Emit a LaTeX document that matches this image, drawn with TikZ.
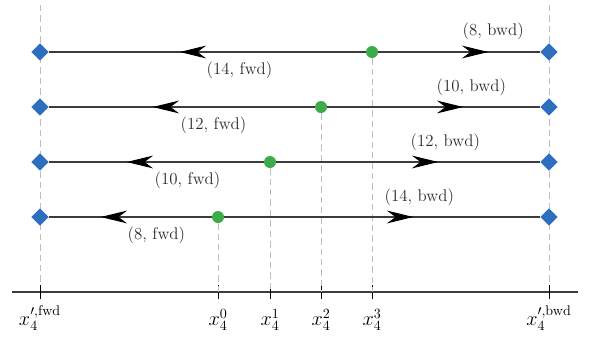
\documentclass[tikz,border=0pt]{standalone}
\usepackage{amsmath}
\usepackage{xcolor}
\definecolor{diablue}{RGB}{45,110,190}
\definecolor{dotgrn}{RGB}{58,172,72}
\definecolor{linegray}{RGB}{60,60,60}
\definecolor{guidegray}{RGB}{190,190,190}
\definecolor{txtgray}{RGB}{45,45,45}
\usepackage{tikz}
\usetikzlibrary{shapes.geometric, arrows.meta, decorations.markings}
\tikzset{
  endpt/.style={
    diamond, fill=diablue, inner sep=0pt, minimum size=4.4mm},
  split/.style={
    circle, fill=dotgrn, inner sep=0pt, minimum size=3mm},
  seg/.style={linegray, line width=0.8pt},
  guide/.style={guidegray, line width=0.7pt, dash pattern=on 1.6mm off 1mm},
  axisln/.style={linegray, line width=0.9pt},
  tickln/.style={black, line width=0.6pt},
  cost/.style={font=\large, text=txtgray, inner sep=1pt},
  ticklbl/.style={font=\Large, inner sep=1pt},
  midarr/.style={
    postaction={decorate},
    decoration={markings,
      mark=at position #1 with {\arrow{Stealth[length=6.6mm, width=3.2mm, color=black]}}}},
}

\begin{document}
\begin{tikzpicture}[x=0.025cm, y=-0.025cm]
  \useasboundingbox (0,0) rectangle (592,336);
  % axis and ticks
  \coordinate (axl) at (12,292);
  \coordinate (axr) at (578,292);
  \coordinate (tf) at (40,292);
  \coordinate (t0) at (218,292);
  \coordinate (t1) at (270,292);
  \coordinate (t2) at (321,292);
  \coordinate (t3) at (372,292);
  \coordinate (tb) at (549,292);
  \coordinate (topf) at (40,5);
  \coordinate (topb) at (549,5);
  \draw[guide] (topf) -- (tf);
  \draw[guide] (topb) -- (tb);
  \draw[axisln] (axl) -- (axr);
  \foreach \t in {tf,t0,t1,t2,t3,tb}
    \draw[tickln] ([yshift=-5]\t) -- ([yshift=5]\t);
  \node[ticklbl] (lf) at (40,318) {$x_4^{\prime,\mathrm{fwd}}$};
  \node[ticklbl] (l0) at (218,320) {$x_4^0$};
  \node[ticklbl] (l1) at (270,320) {$x_4^1$};
  \node[ticklbl] (l2) at (321,320) {$x_4^2$};
  \node[ticklbl] (l3) at (372,320) {$x_4^3$};
  \node[ticklbl] (lb) at (549,318) {$x_4^{\prime,\mathrm{bwd}}$};

  % row 1
  \node[split] (d1) at (372,52) {};
  \draw[guide] (d1) -- (t3);
  \node[endpt] (f1) at (40,52) {};
  \node[endpt] (b1) at (549,52) {};
  \draw[seg, midarr=4.65cm] (d1) -- (f1);
  \draw[seg, midarr=2.75cm] (d1) -- (b1);
  \node[cost, anchor=west] (c1f) at (205,70) {(14, fwd)};
  \node[cost, anchor=west] (c1b) at (461,31) {(8, bwd)};

  % row 2
  \node[split] (d2) at (321,107) {};
  \draw[guide] (d2) -- (t2);
  \node[endpt] (f2) at (40,107) {};
  \node[endpt] (b2) at (549,107) {};
  \draw[seg, midarr=4.05cm] (d2) -- (f2);
  \draw[seg, midarr=3.4cm] (d2) -- (b2);
  \node[cost, anchor=west] (c2f) at (179,125) {(12, fwd)};
  \node[cost, anchor=west] (c2b) at (435,87) {(10, bwd)};

  % row 3
  \node[split] (d3) at (270,162) {};
  \draw[guide] (d3) -- (t1);
  \node[endpt] (f3) at (40,162) {};
  \node[endpt] (b3) at (549,162) {};
  \draw[seg, midarr=3.425cm] (d3) -- (f3);
  \draw[seg, midarr=4.05cm] (d3) -- (b3);
  \node[cost, anchor=west] (c3f) at (153,180) {(10, fwd)};
  \node[cost, anchor=west] (c3b) at (409,142) {(12, bwd)};

  % row 4
  \node[split] (d4) at (218,217) {};
  \draw[guide] (d4) -- (t0);
  \node[endpt] (f4) at (40,217) {};
  \node[endpt] (b4) at (549,217) {};
  \draw[seg, midarr=2.775cm] (d4) -- (f4);
  \draw[seg, midarr=4.725cm] (d4) -- (b4);
  \node[cost, anchor=west] (c4f) at (126,235) {(8, fwd)};
  \node[cost, anchor=west] (c4b) at (383,197) {(14, bwd)};
\end{tikzpicture}
\end{document}
